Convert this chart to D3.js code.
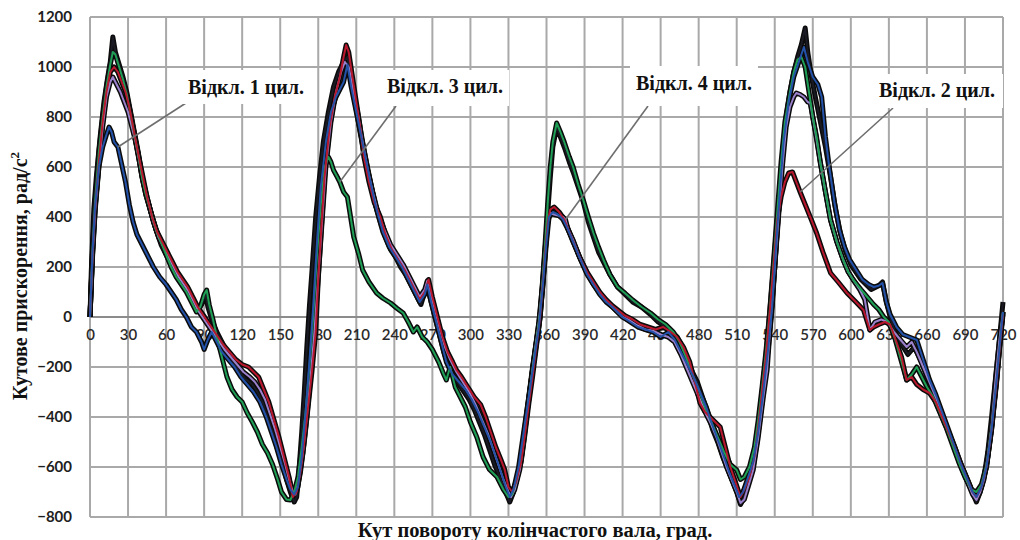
<!DOCTYPE html>
<html lang="uk">
<head>
<meta charset="utf-8">
<script src="https://cdn.jsdelivr.net/npm/d3@7"></script>
<style>
  html, body { margin: 0; padding: 0; background: #fff; }
  svg { display: block; }
</style>
</head>
<body>
<svg id="chart" width="1020" height="540"></svg>
<script>
// Angular acceleration of the crankshaft vs. crank angle, one curve per test run
// ([crank angle, deg] , [acceleration, rad/s^2]) pairs.

const allCylinders = [
  [0,0],[1,180],[3,430],[5,560],[8,720],[11,860],[14,960],[16,1020],[18,1120],[20,1060],[23,1010],[26,960],[29,900],
  [32,820],[35,740],[38,660],[41,560],[44,490],[48,420],[52,350],[56,290],[60,250],[64,210],[68,170],[72,140],[76,110],
  [80,70],[84,30],[88,50],[91,90],[93,40],[96,-10],[100,-60],[104,-100],[108,-140],[113,-180],[118,-220],[123,-250],
  [128,-270],[132,-300],[136,-340],[140,-400],[144,-460],[148,-530],[152,-590],[155,-650],[158,-700],[161,-740],
  [163,-720],[165,-600],[167,-460],[169,-300],[171,-120],[173,40],[175,180],[178,400],[181,560],[184,700],[188,820],
  [192,920],[196,980],[200,1020],[203,1040],[206,960],[209,860],[213,740],[217,630],[221,540],[225,450],[229,380],
  [233,320],[237,270],[241,240],[245,200],[249,170],[253,130],[257,90],[261,50],[264,100],[266,140],[268,80],[271,20],
  [275,-60],[279,-140],[283,-200],[287,-240],[291,-270],[295,-300],[299,-330],[303,-370],[307,-420],[311,-470],
  [315,-530],[319,-590],[323,-640],[327,-690],[331,-740],[334,-700],[337,-640],[340,-560],[343,-440],[346,-320],
  [349,-200],[352,-100],[355,0],[357,120],[359,260],[361,420],[363,560],[365,680],[368,760],[371,720],[374,680],
  [378,620],[381,580],[385,520],[389,460],[393,380],[397,320],[401,260],[405,220],[410,170],[416,120],[422,90],
  [428,60],[435,40],[442,10],[448,-20],[454,-40],[459,-60],[463,-80],[467,-120],[471,-170],[475,-220],[479,-260],
  [483,-320],[487,-380],[491,-450],[495,-500],[499,-560],[503,-610],[507,-660],[510,-700],[513,-750],[516,-720],
  [519,-670],[523,-600],[526,-500],[529,-380],[532,-250],[535,-100],[538,60],[540,200],[543,420],[546,640],[549,800],
  [552,900],[555,980],[558,1040],[561,1090],[564,1156],[566,1060],[569,960],[572,880],[576,780],[580,680],[584,560],
  [588,430],[592,330],[596,260],[600,210],[604,180],[608,150],[612,130],[616,110],[620,120],[623,130],[625,140],
  [628,60],[631,0],[635,-60],[640,-110],[645,-150],[650,-120],[655,-170],[660,-240],[665,-300],[670,-360],[675,-430],
  [680,-500],[685,-570],[690,-630],[695,-690],[699,-740],[702,-700],[705,-640],[708,-540],[711,-400],[714,-250],
  [717,-100],[720,60]
];

const cyl1Off = [
  [0,0],[2,260],[4,440],[7,600],[10,680],[13,730],[15,760],[17,740],[19,700],[22,680],[25,610],[28,540],[31,450],
  [34,380],[37,330],[41,290],[45,250],[50,200],[55,160],[60,130],[64,100],[68,70],[72,30],[76,0],[80,-40],[84,-60],
  [88,-100],[90,-130],[93,-90],[96,-60],[100,-100],[104,-140],[109,-170],[114,-200],[119,-240],[124,-270],[129,-300],
  [134,-340],[139,-400],[143,-460],[147,-520],[151,-590],[155,-650],[158,-690],[161,-710],[164,-680],[167,-560],
  [170,-380],[173,-180],[176,40],[179,300],[182,520],[186,700],[190,820],[194,880],[197,910],[200,940],[203,1010],
  [206,920],[210,820],[214,720],[218,620],[222,520],[226,430],[231,340],[236,280],[241,240],[246,200],[251,150],
  [256,100],[260,60],[264,90],[266,130],[269,60],[273,-20],[277,-100],[281,-180],[286,-230],[291,-260],[296,-290],
  [301,-330],[306,-380],[311,-440],[316,-500],[320,-560],[324,-620],[328,-680],[331,-720],[334,-690],[338,-600],
  [342,-460],[346,-320],[350,-180],[354,-40],[357,120],[360,300],[362,400],[365,420],[369,410],[373,390],[377,350],
  [381,300],[386,240],[392,170],[397,130],[402,90],[407,60],[412,40],[416,20],[420,0],[426,-20],[432,-40],[438,-50],
  [444,-60],[450,-80],[456,-60],[461,-90],[466,-140],[471,-190],[476,-240],[481,-300],[486,-360],[490,-420],
  [495,-490],[500,-560],[504,-620],[508,-670],[512,-720],[515,-700],[519,-640],[523,-580],[527,-460],[531,-300],
  [535,-120],[538,40],[541,280],[544,500],[547,700],[551,860],[555,960],[559,1020],[563,1080],[566,1020],[570,960],
  [574,930],[577,880],[580,720],[583,600],[587,460],[591,350],[595,280],[599,230],[604,190],[609,150],[614,130],
  [618,120],[622,125],[625,136],[628,60],[631,10],[636,-40],[641,-70],[646,-80],[652,-92],[657,-170],[662,-250],
  [667,-310],[672,-380],[677,-450],[682,-520],[687,-590],[692,-650],[696,-700],[699,-720],[703,-680],[707,-600],
  [711,-450],[715,-250],[718,-80],[720,20]
];

const cyl2Off = [
  [0,0],[2,250],[4,430],[7,620],[10,780],[13,900],[16,980],[19,1000],[22,980],[25,940],[28,900],[31,840],[34,760],
  [37,680],[41,580],[45,480],[49,400],[53,340],[57,300],[61,260],[65,220],[69,180],[73,150],[77,120],[81,80],[85,40],
  [89,10],[93,-20],[97,-50],[101,-80],[105,-110],[110,-140],[115,-170],[120,-190],[125,-200],[129,-220],[133,-240],
  [137,-290],[141,-340],[145,-410],[149,-480],[153,-560],[157,-640],[160,-720],[163,-700],[166,-620],[169,-500],
  [172,-360],[175,-220],[178,-60],[180,150],[182,320],[185,560],[189,760],[193,880],[197,960],[200,1040],[202,1088],
  [204,1060],[207,960],[210,860],[213,760],[216,640],[220,540],[224,460],[229,400],[233,330],[238,270],[243,230],
  [248,190],[252,150],[256,110],[260,70],[264,100],[267,150],[270,80],[274,0],[278,-80],[282,-140],[286,-180],
  [289,-212],[293,-240],[298,-280],[303,-320],[308,-350],[312,-400],[316,-460],[320,-520],[324,-570],[327,-610],
  [330,-680],[333,-700],[336,-660],[340,-580],[343,-470],[346,-350],[349,-240],[352,-120],[355,0],[357,130],
  [359,260],[361,380],[363,430],[366,440],[370,420],[374,390],[378,340],[382,290],[387,230],[392,180],[397,140],
  [402,100],[407,70],[412,45],[417,25],[422,5],[428,-10],[434,-30],[440,-40],[446,-50],[452,-40],[458,-60],[463,-80],
  [468,-120],[473,-180],[477,-260],[481,-344],[485,-380],[489,-400],[493,-420],[497,-440],[501,-520],[505,-600],
  [509,-660],[513,-720],[516,-690],[520,-640],[524,-560],[527,-440],[530,-300],[533,-160],[536,16],[539,200],
  [542,388],[545,480],[548,540],[551,576],[554,580],[557,540],[560,500],[564,450],[568,400],[573,336],[578,260],
  [584,176],[590,140],[597,96],[604,60],[610,28],[613,-20],[615,-52],[618,-40],[622,-30],[627,-20],[631,-30],
  [636,-100],[640,-160],[644,-252],[648,-240],[652,-270],[657,-290],[662,-304],[667,-340],[672,-400],[677,-460],
  [682,-520],[687,-590],[692,-650],[696,-700],[699,-720],[703,-680],[707,-600],[711,-450],[715,-260],[718,-90],[720,10]
];

const cyl3Off = [
  [0,0],[2,270],[4,460],[7,660],[10,800],[13,920],[16,1010],[18,1060],[20,1050],[23,1000],[26,950],[29,890],
  [32,810],[35,730],[38,650],[41,560],[44,490],[48,420],[52,350],[56,300],[60,250],[64,200],[68,160],[72,130],
  [76,100],[80,60],[84,20],[87,40],[90,90],[92,108],[94,50],[97,-10],[100,-80],[104,-160],[108,-240],[112,-290],
  [116,-320],[120,-340],[124,-384],[128,-420],[132,-460],[136,-510],[140,-544],[144,-590],[148,-650],[151,-700],
  [155,-730],[158,-732],[161,-700],[164,-640],[167,-520],[170,-380],[173,-200],[176,0],[179,250],[182,450],[185,600],
  [188,640],[190,620],[192,588],[195,560],[197,540],[200,500],[203,480],[208,320],[212,250],[215,188],[220,140],
  [226,96],[231,75],[237,56],[242,35],[247,16],[251,-20],[255,-60],[258,-40],[262,-80],[266,-100],[270,-130],
  [275,-180],[279,-230],[281,-252],[284,-200],[288,-280],[292,-320],[296,-360],[300,-420],[305,-480],[310,-560],
  [315,-610],[321,-640],[326,-690],[330,-720],[333,-710],[336,-660],[340,-570],[343,-450],[346,-330],[349,-210],
  [352,-100],[355,20],[357,150],[359,300],[361,460],[363,600],[365,700],[368,776],[371,740],[374,700],[378,640],
  [381,600],[385,530],[389,468],[393,400],[397,336],[401,280],[405,228],[410,170],[416,120],[422,95],[428,68],
  [435,40],[442,16],[448,-10],[454,-30],[460,-60],[465,-100],[470,-160],[475,-230],[480,-290],[485,-360],[490,-420],
  [495,-480],[500,-540],[505,-590],[510,-612],[513,-650],[516,-640],[520,-600],[524,-520],[527,-410],[530,-280],
  [533,-140],[536,20],[539,220],[542,420],[545,620],[548,780],[552,900],[555,980],[558,1030],[561,1040],[564,1000],
  [567,900],[570,800],[573,720],[576,616],[580,500],[584,388],[589,300],[594,228],[598,180],[602,148],[608,110],
  [613,80],[618,50],[622,30],[626,0],[630,-20],[635,-90],[640,-180],[644,-252],[648,-230],[652,-200],[656,-240],
  [660,-280],[665,-320],[670,-380],[675,-440],[680,-510],[685,-580],[690,-640],[695,-690],[699,-700],[703,-670],
  [707,-590],[711,-440],[715,-250],[718,-80],[720,20]
];

const cyl4Off = [
  [0,0],[2,240],[4,420],[7,600],[10,760],[13,880],[16,940],[18,960],[21,930],[24,900],[27,860],[30,820],[33,760],
  [36,700],[39,620],[42,540],[46,460],[50,380],[54,320],[58,280],[62,240],[66,200],[70,160],[74,130],[78,100],
  [82,60],[86,20],[90,-10],[94,-40],[98,-70],[102,-100],[106,-130],[111,-160],[116,-190],[121,-220],[126,-240],
  [130,-260],[134,-290],[138,-330],[142,-390],[146,-450],[150,-520],[154,-590],[157,-650],[160,-700],[162,-710],
  [165,-640],[168,-540],[171,-400],[174,-240],[177,-60],[180,160],[183,380],[186,600],[190,780],[194,900],[198,980],
  [201,1020],[204,1000],[207,920],[211,820],[215,700],[219,590],[223,500],[227,420],[232,350],[237,290],[242,250],
  [247,210],[252,160],[256,120],[260,80],[264,110],[266,145],[268,100],[272,30],[276,-50],[280,-120],[284,-170],
  [289,-220],[294,-260],[299,-300],[304,-350],[309,-410],[314,-470],[318,-530],[322,-590],[326,-650],[330,-700],
  [332,-720],[335,-690],[339,-610],[342,-500],[345,-370],[348,-250],[351,-130],[354,-20],[357,140],[359,280],
  [361,380],[363,416],[366,410],[370,405],[373,400],[375,390],[377,350],[381,308],[386,240],[392,176],[397,130],
  [402,96],[407,65],[412,40],[416,20],[420,0],[426,-15],[432,-35],[438,-50],[444,-55],[450,-70],[456,-80],[461,-100],
  [466,-150],[471,-210],[476,-270],[481,-330],[486,-390],[490,-430],[494,-480],[498,-540],[502,-600],[506,-650],
  [510,-700],[513,-744],[516,-730],[519,-680],[523,-612],[527,-480],[531,-320],[534,-212],[537,0],[540,200],
  [543,400],[546,600],[549,760],[552,840],[555,880],[557,896],[560,890],[563,880],[566,860],[568,856],[572,740],
  [576,616],[580,500],[584,388],[589,300],[594,228],[598,180],[602,148],[607,110],[611,70],[615,-52],[619,-20],
  [624,-10],[629,-20],[634,-60],[639,-90],[644,-120],[648,-100],[652,-140],[657,-200],[662,-260],[667,-320],
  [672,-390],[677,-460],[682,-530],[687,-600],[692,-660],[696,-710],[699,-732],[702,-700],[705,-650],[708,-560],
  [711,-440],[714,-260],[717,-100],[720,20]
];

const xTickValues = [0,30,60,90,120,150,180,210,240,270,300,330,360,390,420,450,480,510,540,570,600,630,660,690,720];
const yTickValues = [1200,1000,800,600,400,200,0,-200,-400,-600,-800];

// Callouts: label text and the curve point each one refers to
const calloutTexts  = ["Відкл. 1 цил.", "Відкл. 3 цил.", "Відкл. 4 цил.", "Відкл. 2 цил."];
const calloutAngles = [22, 197, 375, 560];
const calloutValues = [680, 540, 390, 500];

// ---------------------------------------------------------------------------
const svg = d3.select("#chart");
const W = 1020, H = 540;
const plot = { left: 90, right: 1003, top: 17, bottom: 517 };

const x = d3.scaleLinear().domain([0, 720]).range([plot.left, plot.right]);
const y = d3.scaleLinear().domain([-800, 1200]).range([plot.bottom, plot.top]);

svg.append("rect").attr("width", W).attr("height", H).attr("fill", "#fff");

// Grid
const grid = svg.append("g");
grid.selectAll("line.v").data(xTickValues).join("line")
  .attr("x1", d => x(d)).attr("x2", d => x(d))
  .attr("y1", plot.top).attr("y2", plot.bottom)
  .attr("stroke", "#a9a9a9").attr("stroke-width", 2);
grid.selectAll("line.h").data(yTickValues).join("line")
  .attr("x1", plot.left).attr("x2", plot.right)
  .attr("y1", d => y(d)).attr("y2", d => y(d))
  .attr("stroke", d => d === 0 ? "#8c8c8c" : "#a9a9a9").attr("stroke-width", 2);

// Axis labels
const xAxis = svg.append("g")
  .attr("transform", `translate(0,${y(0)})`)
  .call(d3.axisBottom(x).tickValues(xTickValues).tickSize(0).tickPadding(12).tickFormat(d3.format("d")));
xAxis.select(".domain").remove();
xAxis.selectAll("text")
  .attr("font-family", "Lato, 'Open Sans', sans-serif")
  .attr("font-size", 15).attr("font-weight", 600).attr("fill", "#2a2a2a");

const yAxis = svg.append("g")
  .attr("transform", `translate(${plot.left},0)`)
  .call(d3.axisLeft(y).tickValues(yTickValues).tickSize(0).tickPadding(18).tickFormat(d3.format("d")));
yAxis.select(".domain").remove();
yAxis.selectAll("text")
  .attr("font-family", "Lato, 'Open Sans', sans-serif")
  .attr("font-size", 15).attr("font-weight", 700).attr("fill", "#1e1e1e");

// Curves: dark casing under every run first, then the coloured cores on top
const runs = [
  { points: allCylinders, color: "#1a1a24" },
  { points: cyl4Off,      color: "#9b80cc" },
  { points: cyl3Off,      color: "#1f9e55" },
  { points: cyl2Off,      color: "#b8182e" },
  { points: cyl1Off,      color: "#2352a8" }
];
const line = d3.line().x(d => x(d[0])).y(d => y(d[1])).curve(d3.curveLinear);

const curves = svg.append("g");
curves.selectAll("path.casing").data(runs).join("path")
  .attr("class", "casing")
  .attr("d", d => line(d.points))
  .attr("fill", "none").attr("stroke", "#0b0b0b")
  .attr("stroke-width", 5).attr("stroke-linejoin", "round");
curves.selectAll("path.core").data(runs).join("path")
  .attr("class", "core")
  .attr("d", d => line(d.points))
  .attr("fill", "none").attr("stroke", d => d.color)
  .attr("stroke-width", 2).attr("stroke-linejoin", "round");

// Callout boxes with leader lines
const boxLayout = [
  { cx: 246, baseline: 94, left: 182, top: 70, width: 128, height: 34 },
  { cx: 445, baseline: 93, left: 381, top: 70, width: 128, height: 36 },
  { cx: 694, baseline: 90, left: 630, top: 66, width: 128, height: 40 },
  { cx: 937, baseline: 97, left: 872, top: 74, width: 131, height: 34 }
];
const leaderFrom = [[186, 103], [396, 106], [648, 106], [893, 108]];

const callouts = svg.append("g");
calloutTexts.forEach((t, i) => {
  const b = boxLayout[i];
  callouts.append("line")
    .attr("x1", leaderFrom[i][0]).attr("y1", leaderFrom[i][1])
    .attr("x2", x(calloutAngles[i])).attr("y2", y(calloutValues[i]))
    .attr("stroke", "#6e6e6e").attr("stroke-width", 1.6);
  callouts.append("rect")
    .attr("x", b.left).attr("y", b.top).attr("width", b.width).attr("height", b.height)
    .attr("fill", "#fff");
  callouts.append("text")
    .attr("x", b.cx).attr("y", b.baseline)
    .attr("text-anchor", "middle")
    .attr("font-family", "'Liberation Serif', 'Times New Roman', serif")
    .attr("font-weight", 700).attr("font-size", 20).attr("fill", "#111")
    .text(t);
});

// Band below the plot with the axis title
svg.append("rect").attr("x", 0).attr("y", 522).attr("width", W).attr("height", H - 522).attr("fill", "#fff");
svg.append("text")
  .attr("x", 535).attr("y", 537)
  .attr("text-anchor", "middle")
  .attr("font-family", "'Liberation Serif', 'Times New Roman', serif")
  .attr("font-weight", 700).attr("font-size", 20.5).attr("fill", "#111")
  .text("Кут повороту колінчастого вала, град.");

// Vertical axis title
const yTitle = svg.append("text")
  .attr("transform", `translate(27,276) rotate(-90)`)
  .attr("text-anchor", "middle")
  .attr("font-family", "'Liberation Serif', 'Times New Roman', serif")
  .attr("font-weight", 700).attr("font-size", 20).attr("fill", "#111");
yTitle.append("tspan").text("Кутове прискорення, рад/с");
yTitle.append("tspan").attr("dy", -8).attr("font-size", 13).text("2");
</script>
</body>
</html>
